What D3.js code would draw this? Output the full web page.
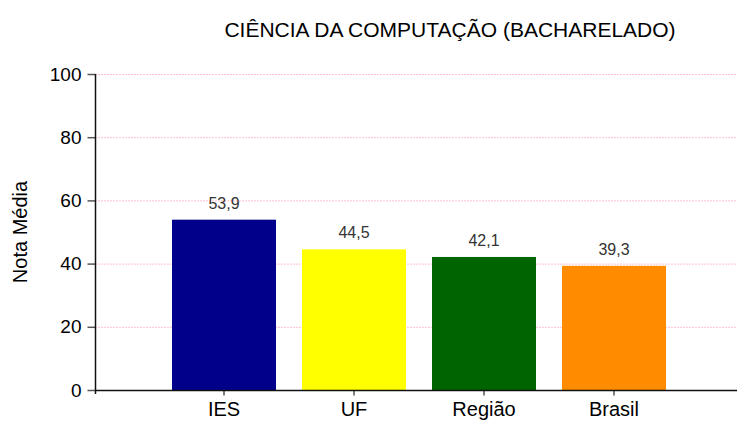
<!DOCTYPE html>
<html>
<head>
<meta charset="utf-8">
<script src="https://cdn.jsdelivr.net/npm/d3@7"></script>
<style>
  html, body { margin: 0; padding: 0; background: #fff; }
  svg { display: block; font-family: "Liberation Sans", Arial, sans-serif; }
</style>
</head>
<body>
<div id="chart"></div>
<script>
const W = 737, H = 421;

const categories = ["IES", "UF", "Região", "Brasil"];
const values = [53.9, 44.5, 42.1, 39.3];
const barColors = ["#00008b", "#ffff00", "#006400", "#ff8c00"];
const yTicks = [0, 20, 40, 60, 80, 100];

const title = "CIÊNCIA DA COMPUTAÇÃO (BACHARELADO)";
const yTitle = "Nota Média";

// plot area
const axisX = 95, plotRight = 737;
const y0 = 390, y100 = 74;

const svg = d3.select("#chart").append("svg")
  .attr("width", W).attr("height", H);

const y = d3.scaleLinear().domain([0, 100]).range([y0, y100]);
const x = d3.scaleBand().domain(categories)
  .range([159, 679]).paddingInner(0.2).paddingOuter(0.1);

// grid lines (dotted pink)
svg.append("g")
  .selectAll("line")
  .data(yTicks.filter((t) => t > 0))
  .join("line")
  .attr("x1", axisX).attr("x2", plotRight)
  .attr("y1", (d) => y(d) + 0.5).attr("y2", (d) => y(d) + 0.5)
  .attr("stroke", "#ffbfd0")
  .attr("stroke-width", 1)
  .attr("stroke-dasharray", "2,1");

// bars
svg.append("g")
  .selectAll("rect")
  .data(values)
  .join("rect")
  .attr("x", (d, i) => x(categories[i]))
  .attr("width", x.bandwidth())
  .attr("y", (d) => y(d))
  .attr("height", (d) => y0 - y(d))
  .attr("fill", (d, i) => barColors[i]);

// value labels
svg.append("g")
  .selectAll("text")
  .data(values)
  .join("text")
  .attr("x", (d, i) => x(categories[i]) + x.bandwidth() / 2)
  .attr("y", (d) => y(d) - 11)
  .attr("text-anchor", "middle")
  .attr("font-size", 16)
  .attr("fill", "#333")
  .text((d) => d.toFixed(1).replace(".", ","));

// y axis
const yAxis = d3.axisLeft(y).tickValues(yTicks).tickSize(8).tickPadding(6);
const gy = svg.append("g")
  .attr("transform", `translate(${axisX + 0.5},0)`)
  .call(yAxis);
gy.select(".domain").remove();
gy.selectAll(".tick line").attr("stroke", "#555").attr("stroke-width", 1.5);
gy.selectAll(".tick text").attr("font-size", 19).attr("fill", "#000")
  .attr("font-family", "'Liberation Sans', Arial, sans-serif");
svg.append("line")
  .attr("x1", axisX + 0.5).attr("x2", axisX + 0.5)
  .attr("y1", y100).attr("y2", y0 + 4)
  .attr("stroke", "#111").attr("stroke-width", 1.5);

// x axis
const xAxis = d3.axisBottom(x).tickSize(5).tickPadding(0);
const gx = svg.append("g")
  .attr("transform", `translate(0,${y0 + 0.5})`)
  .call(xAxis);
gx.select(".domain").remove();
gx.selectAll(".tick line").attr("stroke", "#555").attr("stroke-width", 1.5);
gx.selectAll(".tick text").attr("font-size", 20).attr("fill", "#000")
  .attr("dy", null).attr("y", 25.5)
  .attr("font-family", "'Liberation Sans', Arial, sans-serif");
svg.append("line")
  .attr("x1", axisX).attr("x2", plotRight)
  .attr("y1", y0 + 0.5).attr("y2", y0 + 0.5)
  .attr("stroke", "#111").attr("stroke-width", 1.5);

// titles
svg.append("text")
  .attr("x", 450).attr("y", 37)
  .attr("text-anchor", "middle")
  .attr("font-size", 21)
  .attr("fill", "#000")
  .text(title);

svg.append("text")
  .attr("transform", "translate(27,232) rotate(-90)")
  .attr("text-anchor", "middle")
  .attr("font-size", 20)
  .attr("fill", "#000")
  .text(yTitle);
</script>
</body>
</html>
